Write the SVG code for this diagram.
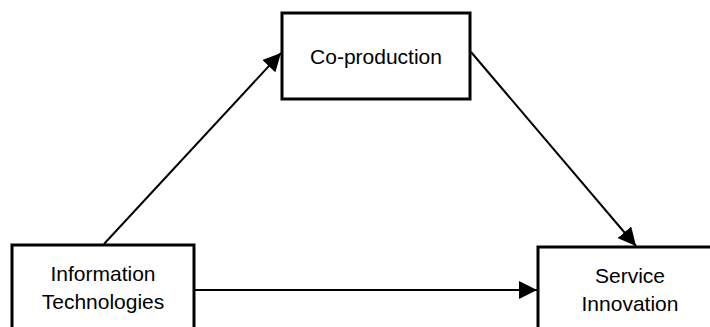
<svg xmlns="http://www.w3.org/2000/svg" width="710" height="327" viewBox="0 0 710 327">
<style>
.box{fill:#fff;stroke:#000;stroke-width:3}
.t{font-family:"Liberation Sans",Arial,sans-serif;font-size:21px;fill:#000;text-anchor:middle}
.c{stroke:#000;stroke-width:2;fill:none}
</style>
<defs>
<marker id="ah" viewBox="0 0 10 10" refX="10" refY="5" markerWidth="18" markerHeight="18" markerUnits="userSpaceOnUse" orient="auto">
<path d="M0,0 L10,5 L0,10 z" fill="#000"/>
</marker>
</defs>
<g id="connectors">
<line class="c" x1="104" y1="244" x2="281" y2="53" marker-end="url(#ah)"/>
<line class="c" x1="471" y1="52" x2="636" y2="246" marker-end="url(#ah)"/>
<line class="c" x1="195" y1="290" x2="537" y2="290" marker-end="url(#ah)"/>
</g>
<g id="coproduction">
<rect class="box" x="282" y="13" width="188" height="86"/>
<text class="t" x="376" y="64">Co-production</text>
</g>
<g id="it">
<rect class="box" x="12" y="245" width="182" height="90"/>
<text class="t" x="103" y="281">Information</text>
<text class="t" x="103" y="309">Technologies</text>
</g>
<g id="service">
<rect class="box" x="538" y="247" width="180" height="90"/>
<text class="t" x="630" y="283">Service</text>
<text class="t" x="630" y="311">Innovation</text>
</g>
</svg>
